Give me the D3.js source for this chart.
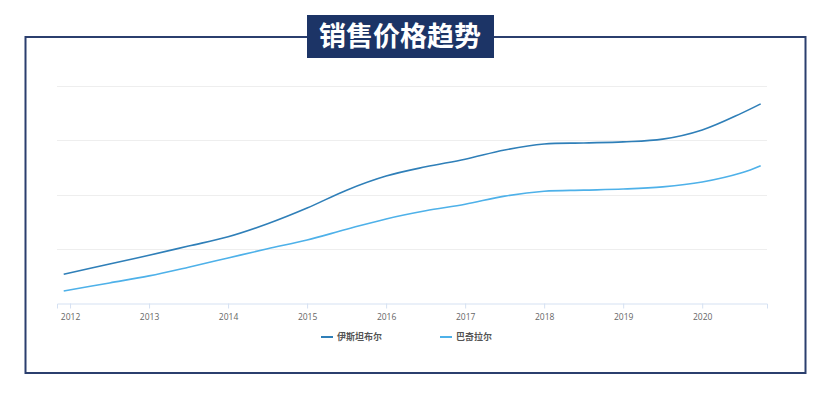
<!DOCTYPE html>
<html>
<head>
<meta charset="utf-8">
<script src="https://cdn.jsdelivr.net/npm/d3@7"></script>
<style>
  body { margin: 0; background: #fff; font-family: "Noto Sans CJK SC", "Open Sans", sans-serif; }
</style>
</head>
<body>
<div id="chart"></div>
<script>
/* DATA */
const title = "销售价格趋势";
const seriesNames = ["伊斯坦布尔", "巴奇拉尔"];
const seriesColors = ["#2f7fb8", "#4eb1e9"];
const yearTicks = [2012, 2013, 2014, 2015, 2016, 2017, 2018, 2019, 2020];
const periods = [2011.92, 2012.5, 2013, 2013.5, 2014, 2014.5, 2015, 2015.5, 2016, 2016.5,
  2017, 2017.5, 2018, 2018.5, 2019, 2019.5, 2020, 2020.5, 2020.74];
const istanbul = [53, 72, 88, 105, 122, 146, 175, 208, 234, 251,
  265, 282, 293, 295, 297, 302, 319, 350, 367];
const bagcilar = [22, 37, 50, 66, 83, 100, 116, 136, 155, 170,
  182, 197, 206, 208, 210, 214, 223, 240, 253];
const gridValues = [0, 100, 200, 300, 400];

/* CONSTANTS */
const width = 831, height = 396;
const margin = { top: 86, bottom: 93, left: 57, right: 64 };

const svg = d3.select("#chart").append("svg")
  .attr("width", width)
  .attr("height", height);

// outer frame
svg.append("rect")
  .attr("x", 25.5).attr("y", 37)
  .attr("width", 780).attr("height", 336)
  .attr("fill", "none")
  .attr("stroke", "#2b3f6e")
  .attr("stroke-width", 2);

// title box
svg.append("rect")
  .attr("x", 307).attr("y", 15)
  .attr("width", 187).attr("height", 43)
  .attr("fill", "#1c3466");
svg.append("text")
  .attr("x", 400).attr("y", 46)
  .attr("text-anchor", "middle")
  .attr("fill", "#fff")
  .attr("font-size", 27)
  .attr("font-weight", "bold")
  .text(title);

/* SCALES */
const xScale = d3.scaleLinear()
  .domain([2011.835, 2020.82])
  .range([margin.left, width - margin.right]);

const yScale = d3.scaleLinear()
  .domain([0, 400])
  .range([height - margin.bottom, margin.top]);

// gridlines
svg.append("g")
  .selectAll("line")
  .data(gridValues.slice(1))
  .join("line")
  .attr("x1", margin.left).attr("x2", width - margin.right)
  .attr("y1", d => Math.round(yScale(d)) + 0.5)
  .attr("y2", d => Math.round(yScale(d)) + 0.5)
  .attr("stroke", "#eeeeee");

// x axis
const xAxis = d3.axisBottom(xScale)
  .tickValues(yearTicks)
  .tickFormat(d3.format("d"))
  .tickSize(5);

const xg = svg.append("g")
  .attr("transform", `translate(0,${Math.round(yScale(0)) + 0.5})`)
  .call(xAxis);
xg.select(".domain").attr("stroke", "#d5e1f2");
xg.selectAll(".tick line").attr("stroke", "#d5e1f2");
xg.selectAll(".tick text")
  .attr("fill", "#666")
  .attr("font-size", 8.5)
  .attr("font-family", "Open Sans, sans-serif")
  .attr("dy", "0.95em");

// lines
const line = d3.line()
  .x(d => xScale(d.t))
  .y(d => yScale(d.v))
  .curve(d3.curveCatmullRom.alpha(0.5));

[istanbul, bagcilar].forEach((vals, i) => {
  svg.append("path")
    .datum(periods.map((t, j) => ({ t: t, v: vals[j] })))
    .attr("d", line)
    .attr("fill", "none")
    .attr("stroke", seriesColors[i])
    .attr("stroke-width", 1.6);
});

// legend
const legend = svg.append("g")
  .selectAll("g")
  .data(seriesNames)
  .join("g")
  .attr("transform", (d, i) => `translate(${321 + i * 119}, 337)`);
legend.append("line")
  .attr("x1", 0).attr("x2", 12)
  .attr("stroke", (d, i) => seriesColors[i])
  .attr("stroke-width", 2);
legend.append("text")
  .attr("x", 16).attr("dy", "0.35em")
  .attr("font-size", 9)
  .attr("font-weight", "bold")
  .attr("fill", "#555")
  .text(d => d);
</script>
</body>
</html>
